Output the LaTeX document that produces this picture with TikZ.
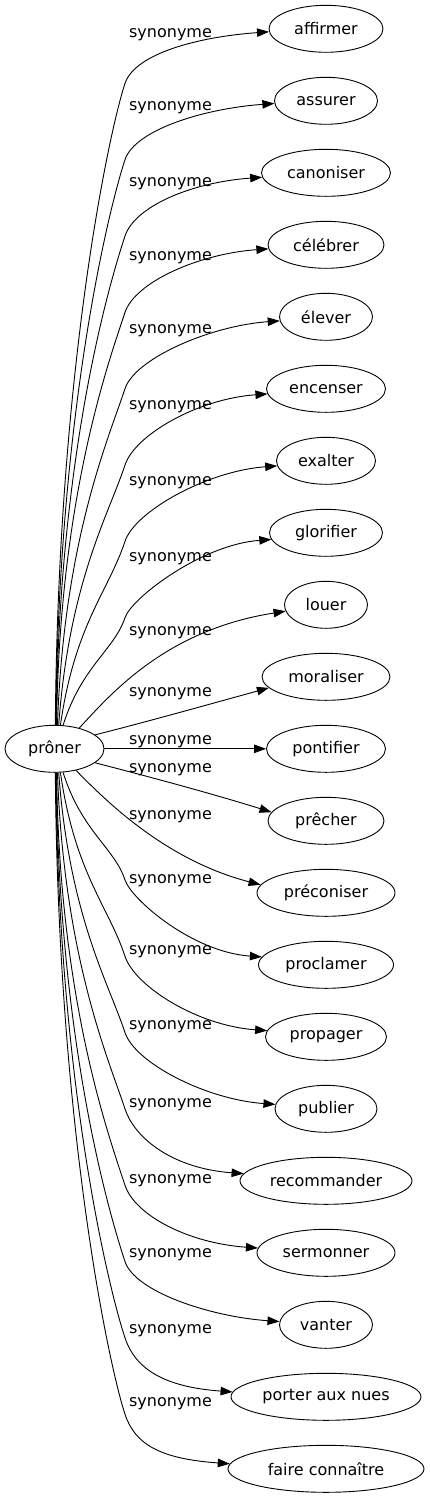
\documentclass[tikz,border=0pt]{standalone}
\usepackage{fontspec}
\setmainfont{DejaVu Sans}
\usetikzlibrary{shapes.geometric,arrows.meta,calc}
\tikzset{
  ell/.style={ellipse, draw, line width=0.9pt, inner sep=0pt, minimum height=47pt, font=\fontsize{16}{19}\selectfont},
  lab/.style={anchor=base, inner sep=0pt, font=\fontsize{16}{19}\selectfont},
  syn/.style={draw, line width=0.9pt, -{Triangle[length=12pt,width=8.5pt]}}
}
\begin{document}
\begin{tikzpicture}[x=1pt,y=-1pt]
\useasboundingbox (0,0) rectangle (429,1499);
\node[ell, minimum width=99pt] (p) at (54.5,748.8) {prôner};
\foreach \i/\w/\t in {0/114/affirmer, 1/103/assurer, 2/129/canoniser, 3/116/célébrer, 4/93/élever, 5/119/encenser, 6/99/exalter, 7/113/glorifier, 8/83/louer, 9/128/moraliser, 10/119/pontifier, 11/116/prêcher, 12/138/préconiser, 13/135/proclamer, 14/121/propager, 15/102/publier, 16/172/recommander, 17/138/sermonner, 18/93/vanter, 19/190/porter aux nues, 20/196/faire connaître}{
  \node[ell, minimum width=\w pt] (t\i) at (326,{28.8+72*\i}) {\t};
}
\foreach \i/\b in {0/37.5, 1/110.5, 2/186.5, 3/260.5, 4/333.5, 5/409.5, 6/485.5, 7/561.5, 8/635.5, 9/696.5, 10/744.5, 11/772, 12/819.5, 13/883.5, 14/954.5, 15/1029.5, 16/1107.5, 17/1183.5, 18/1257.5, 19/1333.5, 20/1406.5}{
  \node[lab] (l\i) at (170.5,\b) {synonyme};
}
% far and middle edges: two segments through a knee
\foreach \i/\sa/\ea in {0/88/183, 1/87/183, 2/86/184, 3/85/184, 4/83/185, 5/80/185, 6/76/186, 7/70/187, 13/-70/173, 14/-76/174, 15/-80/175, 16/-83/175, 17/-85/176, 18/-86/176, 19/-87/177, 20/-88/177}{
  \pgfmathsetmacro\yt{28.8+72*\i}
  \pgfmathsetmacro\s{\yt>748.8 ? 1 : -1}
  \pgfmathsetmacro\D{abs(\yt-748.8)}
  \pgfmathsetmacro\g{72+(430-\D)*0.06}
  \pgfmathsetmacro\Ky{\yt-(\s)*\g}
  \pgfmathsetmacro\f{0.04+0.25*min(1,max(0,(500-\D)/300))}
  \pgfmathsetmacro\L{\D-\g-24}
  \pgfmathsetmacro\h{min(50,0.3*\L)}
  \draw[syn] (p.\sa) .. controls ($(p.\sa)+({67*\f},{(\s)*0.55*\L})$) and ({125-0.33*\h},{\Ky-(\s)*\h}) .. (125,\Ky)
     .. controls ({125+0.33*0.6*\h},{\Ky+(\s)*0.6*\h}) and ($(t\i.\ea)+(-70,{-(\s)*5})$) .. (t\i.\ea);
}
% near edges
\draw[syn] (p.40) .. controls (110,695) and (165,630) .. (t8.189);
\draw[syn] (p.19) .. controls (150,721) and (210,704) .. (t9.191);
\draw[syn] (p) -- (t10);
\draw[syn] (p.-19) .. controls (150,777) and (210,793) .. (t11.171);
\draw[syn] (p.-45) .. controls (105,800) and (165,860) .. (t12.173);
\end{tikzpicture}
\end{document}
